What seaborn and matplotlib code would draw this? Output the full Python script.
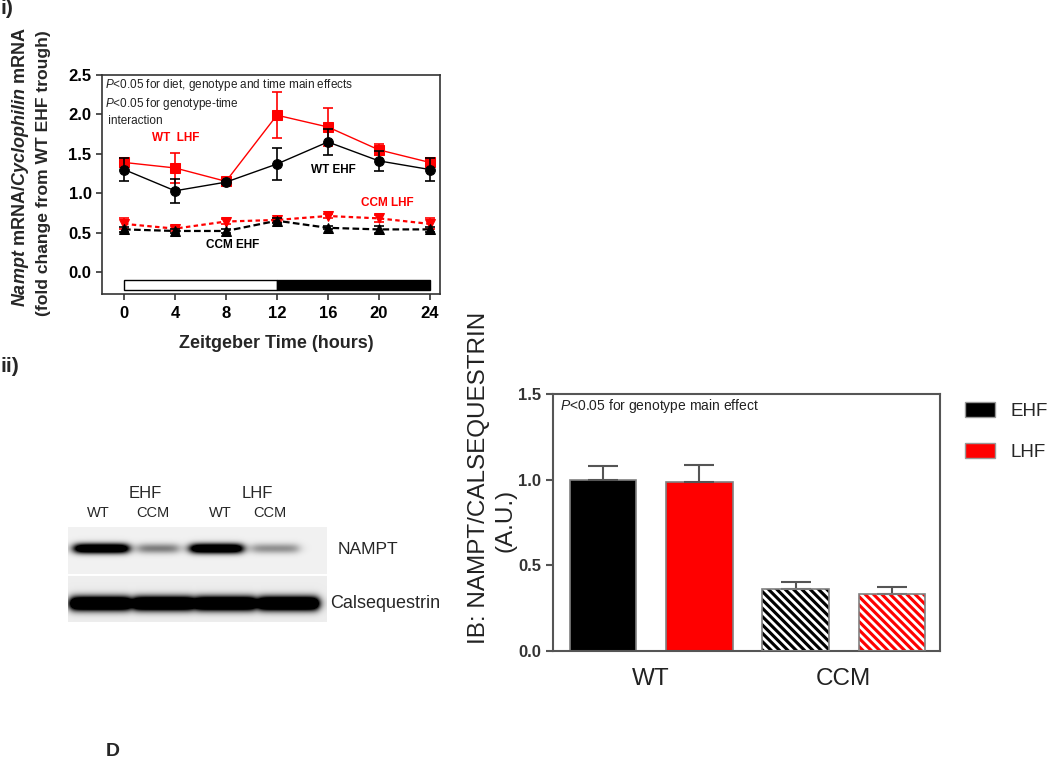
import numpy as np
import pandas as pd
import matplotlib
matplotlib.use('Agg')
from matplotlib import pyplot as plt
from matplotlib.patches import Rectangle, Patch
from matplotlib.ticker import FormatStrFormatter
import seaborn as sns

# (i) Nampt mRNA across the day
hours = [0, 4, 8, 12, 16, 20, 24]
wt_ehf = [1.30, 1.03, 1.14, 1.37, 1.65, 1.41, 1.30]
wt_ehf_err = [0.15, 0.15, 0.02, 0.20, 0.16, 0.13, 0.15]
wt_lhf = [1.39, 1.32, 1.15, 1.99, 1.84, 1.55, 1.39]
wt_lhf_err = [0.06, 0.19, 0.02, 0.29, 0.24, 0.07, 0.06]
ccm_ehf = [0.54, 0.52, 0.52, 0.65, 0.56, 0.54, 0.54]
ccm_ehf_err = [0.03, 0.03, 0.02, 0.03, 0.02, 0.04, 0.03]
ccm_lhf = [0.61, 0.55, 0.64, 0.66, 0.71, 0.68, 0.61]
ccm_lhf_err = [0.07, 0.03, 0.03, 0.03, 0.03, 0.04, 0.07]

light_dark_start = [0, 12]
light_dark_len = [12, 12]
light_dark_color = ['white', 'black']

# (ii) NAMPT / calsequestrin
genotypes = ['WT', 'WT', 'CCM', 'CCM']
diets = ['EHF', 'LHF', 'EHF', 'LHF']
ratio = [1.00, 0.985, 0.36, 0.33]
ratio_err = [0.08, 0.10, 0.04, 0.045]

# blot lanes: WT EHF, CCM EHF, WT LHF, CCM LHF
lane_labels = ['WT', 'CCM', 'WT', 'CCM']
group_labels = ['EHF', 'LHF']
nampt_band = [1.0, 0.3, 1.0, 0.25]
calseq_band = [1.0, 1.0, 1.0, 1.0]

RED = '#ff0000'
W_PX, H_PX = 1050, 764

sns.set_style('ticks')
plt.rcParams['font.family'] = ['Liberation Sans', 'DejaVu Sans']
plt.rcParams['mathtext.fontset'] = 'custom'
plt.rcParams['mathtext.rm'] = 'Liberation Sans'
plt.rcParams['mathtext.it'] = 'Liberation Sans:italic:bold'
plt.rcParams['mathtext.sf'] = 'Liberation Sans:italic'
plt.rcParams['hatch.linewidth'] = 2.0


def px_box(l, t, r, b):
    return [l / W_PX, 1 - b / H_PX, (r - l) / W_PX, (b - t) / H_PX]


def ftext(x, y, s, **kw):
    kw.setdefault('va', 'center')
    return fig.text(x / W_PX, 1 - y / H_PX, s, **kw)


fig = plt.figure(figsize=(10.5, 7.64), dpi=100)

# ---------- (i) time course ----------
ax1 = fig.add_axes(px_box(102, 75, 440, 294))
series = [
    (wt_lhf, wt_lhf_err, RED, '-', 's', 7.5, 1.0),
    (wt_ehf, wt_ehf_err, 'black', '-', 'o', 7.0, 1.0),
    (ccm_lhf, ccm_lhf_err, RED, (0, (2, 1.5)), 'v', 6.5, 1.6),
    (ccm_ehf, ccm_ehf_err, 'black', (0, (3, 1.5)), '^', 6.5, 1.6),
]
for vals, err, col, ls, mk, ms, lw in series:
    sns.lineplot(x=hours, y=vals, ax=ax1, color=col, linestyle=ls, lw=lw,
                 marker=mk, markersize=ms, markeredgecolor=col)
    ax1.errorbar(hours, vals, yerr=err, fmt='none', ecolor=col,
                 elinewidth=1.2, capsize=3.3, capthick=1.2)

ax1.barh(y=-0.165, width=light_dark_len, left=light_dark_start, height=0.135,
         color=light_dark_color, edgecolor='black', lw=1)

ax1.set_xlim(-1.73, 24.8)
ax1.set_ylim(-0.28, 2.5)
ax1.set_xticks(hours)
ax1.set_yticks(np.arange(0, 2.6, 0.5))
ax1.yaxis.set_major_formatter(FormatStrFormatter('%.1f'))
for sp in ax1.spines.values():
    sp.set_color('#333333')
    sp.set_linewidth(1.2)
ax1.tick_params(direction='out', length=4, width=1.2, colors='#333333',
                labelcolor='black', labelsize=12)
ax1.tick_params(axis='x', pad=5)
for lab in ax1.get_xticklabels() + ax1.get_yticklabels():
    lab.set_fontweight('bold')

ax1.text(2.2, 1.70, 'WT  LHF', color=RED, fontweight='bold', fontsize=8.5, va='center')
ax1.text(14.7, 1.29, 'WT EHF', color='black', fontweight='bold', fontsize=8.5, va='center')
ax1.text(18.6, 0.88, 'CCM LHF', color=RED, fontweight='bold', fontsize=8.5, va='center')
ax1.text(6.4, 0.34, 'CCM EHF', color='black', fontweight='bold', fontsize=8.5, va='center')
ax1.text(0.009, 0.99,
         '$\\mathsf{P}$<0.05 for diet, genotype and time main effects\n'
         '$\\mathsf{P}$<0.05 for genotype-time\n interaction',
         transform=ax1.transAxes, fontsize=8.5, va='top', ha='left',
         linespacing=1.3, color='#222222')

ftext(21, 167, '$\\mathit{Nampt}$ mRNA/$\\mathit{Cyclophilin}$ mRNA',
      rotation=90, ha='center', fontweight='bold', fontsize=13)
ftext(44, 173, '(fold change from WT EHF trough)',
      rotation=90, ha='center', fontweight='bold', fontsize=12.6)
ftext(276, 343, 'Zeitgeber Time (hours)', ha='center', fontweight='bold', fontsize=13)

# ---------- (ii) western blot ----------
ax3 = fig.add_axes(px_box(68, 527, 327, 622))
H, W = 95, 259
yy, xx = np.mgrid[0:H, 0:W]
img = np.full((H, W), 0.945)
img[49:, :] = 0.93
nampt_x = [(33, 27), (90, 20), (148, 26), (207, 23)]
calseq_x = [(32, 30), (95, 30), (157, 30), (220, 30)]
dark = np.zeros((H, W))
for (xc, hw), d in zip(nampt_x, nampt_band):
    dark += 1.6 * d * np.exp(-((yy - 21) / 5.0) ** 2) / (1 + np.exp((np.abs(xx - xc) - hw) / 3.0))
for (xc, hw), d in zip(calseq_x, calseq_band):
    dark += 2.0 * d * np.exp(-((yy - 76) / 7.0) ** 2) / (1 + np.exp((np.abs(xx - xc) - hw) / 2.5))
img = img * (1 - np.clip(dark, 0, 1))
img[47:49, :] = 1.0
ax3.imshow(img, cmap='gray', vmin=0, vmax=1, aspect='auto', interpolation='bilinear')
ax3.axis('off')

for x, s in zip([145, 257], group_labels):
    ftext(x, 493, s, ha='center', fontsize=12)
for x, s in zip([98, 153, 220, 270], lane_labels):
    ftext(x, 513, s, ha='center', fontsize=10.5)
ftext(338, 550, 'NAMPT', ha='left', fontsize=12.5)
ftext(330, 603, 'Calsequestrin', ha='left', fontsize=13)

# ---------- (ii) quantification ----------
bar_df = pd.DataFrame({'genotype': genotypes, 'diet': diets,
                       'ratio': ratio, 'err': ratio_err})
ax2 = fig.add_axes(px_box(553, 394, 940, 651))
sns.barplot(data=bar_df, x='genotype', y='ratio', hue='diet',
            palette={'EHF': 'black', 'LHF': RED}, saturation=1, width=1.0, gap=0.31,
            edgecolor='#808080', linewidth=1.2, errorbar=None, legend=False, ax=ax2)

for cont, diet in zip(ax2.containers, ['EHF', 'LHF']):
    sub = bar_df[bar_df['diet'] == diet]
    for bar, (_, row) in zip(cont, sub.iterrows()):
        xc = bar.get_x() + bar.get_width() / 2
        ax2.errorbar(xc, row['ratio'], yerr=[[0], [row['err']]], fmt='none',
                     ecolor='#555555', elinewidth=1.5, capsize=10.5, capthick=1.5, zorder=1)
        if row['genotype'] == 'CCM':
            bar.set_hatch('\\\\\\\\')
            bar.set_edgecolor('white')
            bar.set_linewidth(0)
            ax2.add_patch(Rectangle(bar.get_xy(), bar.get_width(), bar.get_height(),
                                    fill=False, ec='#808080', lw=1.2, zorder=3))

ax2.set_xlim(-0.51, 1.50)
ax2.set_ylim(0, 1.5)
ax2.set_yticks([0, 0.5, 1.0, 1.5])
ax2.yaxis.set_major_formatter(FormatStrFormatter('%.1f'))
ax2.set_xlabel('')
ax2.set_ylabel('')
for sp in ax2.spines.values():
    sp.set_color('#555555')
    sp.set_linewidth(1.5)
ax2.tick_params(axis='y', direction='out', length=5, width=1.5, colors='#555555',
                labelcolor='#333333', labelsize=12)
ax2.tick_params(axis='x', length=0, pad=12, labelsize=17.5, labelcolor='#222222')
for lab in ax2.get_yticklabels():
    lab.set_fontweight('bold')
ax2.text(0.018, 0.955, '$\\mathsf{P}$<0.05 for genotype main effect',
         transform=ax2.transAxes, fontsize=10, va='center', ha='left', color='#222222')

ftext(479, 478, 'IB: NAMPT/CALSEQUESTRIN', rotation=90, ha='center', fontsize=17.5, color='#222222')
ftext(506, 520, '(A.U.)', rotation=90, ha='center', fontsize=17.5, color='#222222')

handles = [Patch(facecolor='black', edgecolor='#999999'),
           Patch(facecolor=RED, edgecolor='#999999')]
fig.legend(handles, group_labels, loc='upper left', bbox_to_anchor=(965 / W_PX, 1 - 402 / H_PX),
           frameon=False, fontsize=13.5, handlelength=1.6, handleheight=0.85,
           labelspacing=1.25, handletextpad=0.8, borderpad=0, borderaxespad=0)

# panel labels
ftext(0, 9, 'i)', ha='left', fontweight='bold', fontsize=15)
ftext(0, 366, 'ii)', ha='left', fontweight='bold', fontsize=15)
ftext(113, 752, 'D', ha='center', fontweight='bold', fontsize=14)

fig.savefig('out.png', dpi=100)
